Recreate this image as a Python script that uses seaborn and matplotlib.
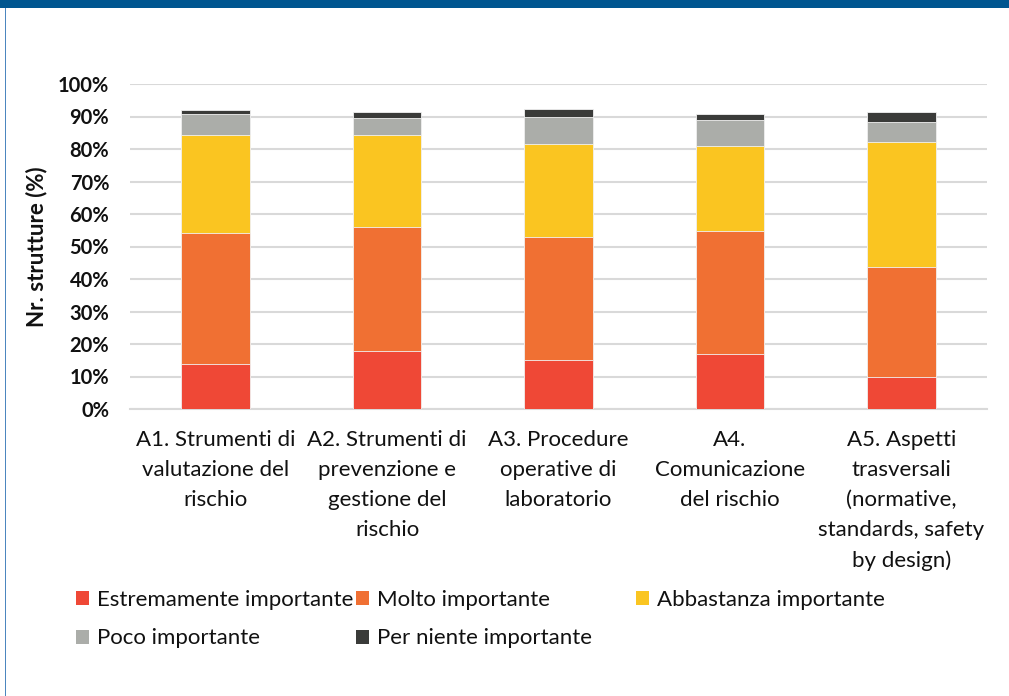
import matplotlib
matplotlib.use("Agg")
import matplotlib.pyplot as plt
from matplotlib.patches import Patch, Rectangle
from matplotlib.ticker import FuncFormatter
import seaborn as sns
import pandas as pd
import numpy as np

categories = [
    "A1. Strumenti di\nvalutazione del\nrischio",
    "A2. Strumenti di\nprevenzione e\ngestione del\nrischio",
    "A3. Procedure\noperative di\nlaboratorio",
    "A4.\nComunicazione\ndel rischio",
    "A5. Aspetti\ntrasversali\n(normative,\nstandards, safety\nby design)",
]
estremamente = [13.8, 17.9, 15.0, 16.8, 9.8]
molto = [40.4, 38.2, 38.0, 38.1, 34.0]
abbastanza = [30.1, 28.2, 28.4, 25.9, 38.3]
poco = [6.4, 5.2, 8.6, 8.1, 6.2]
per_niente = [1.2, 1.8, 2.4, 1.9, 3.0]

series_names = ["Estremamente importante", "Molto importante", "Abbastanza importante",
                "Poco importante", "Per niente importante"]
colors = ["#EF4836", "#F07033", "#FAC521", "#ABADA9", "#3A3B39"]

sns.set_theme(style="white")
plt.rcParams["font.family"] = ["Lato", "DejaVu Sans"]

W, H = 1009, 696
fig = plt.figure(figsize=(W / 100, H / 100), dpi=100)
ax = fig.add_axes([130 / W, 1 - 409 / H, 857 / W, 325 / H])

df = pd.DataFrame({
    "cat": categories,
    series_names[0]: estremamente,
    series_names[1]: molto,
    series_names[2]: abbastanza,
    series_names[3]: poco,
    series_names[4]: per_niente,
})
cum = df[series_names].cumsum(axis=1)

# draw cumulative bars from the top layer downward
for i in range(len(series_names) - 1, -1, -1):
    d = pd.DataFrame({"cat": categories, "val": cum[series_names[i]]})
    sns.barplot(data=d, x="cat", y="val", color=colors[i], width=0.4,
                edgecolor="#f2f2f2", linewidth=0.6, saturation=1, ax=ax, zorder=3)

ax.set_xlim(-0.5, 4.5)
ax.set_ylim(0, 100)
ax.set_yticks(np.arange(0, 101, 10))
ax.yaxis.set_major_formatter(FuncFormatter(lambda v, p: f"{int(round(v))}%"))
ax.grid(axis="y", color="#d9d9d9", linewidth=1.5, zorder=0)
ax.grid(axis="x", visible=False)
for s in ["top", "right", "left"]:
    ax.spines[s].set_visible(False)
ax.spines["bottom"].set_color("#d9d9d9")
ax.spines["bottom"].set_linewidth(1.5)
ax.tick_params(axis="both", length=0)
ax.tick_params(axis="y", pad=15)
ax.tick_params(axis="x", pad=15)
for t in ax.get_yticklabels():
    t.set_fontsize(14.5)
    t.set_fontweight("bold")
    t.set_color("#111111")
for t in ax.get_xticklabels():
    t.set_fontsize(16)
    t.set_color("#111111")
    t.set_linespacing(1.63)
ax.set_xlabel("")
ax.set_ylabel("Nr. strutture (%)", fontsize=16, fontweight="bold", color="#111111")
ax.yaxis.set_label_coords((47 - 130) / 857, 0.5)

handles = [Patch(facecolor=c, edgecolor="none") for c in colors]
leg_kw = dict(frameon=False, fontsize=16, handlelength=0.58, handleheight=0.58,
              handletextpad=0.35, borderpad=0, borderaxespad=0, labelspacing=0.83,
              labelcolor="#111111")
top_y = 1 - 590 / H
l1 = fig.legend([handles[0], handles[3]], [series_names[0], series_names[3]],
                loc="upper left", bbox_to_anchor=(76 / W, top_y), **leg_kw)
l2 = fig.legend([handles[1], handles[4]], [series_names[1], series_names[4]],
                loc="upper left", bbox_to_anchor=(356 / W, top_y), **leg_kw)
l3 = fig.legend([handles[2]], [series_names[2]],
                loc="upper left", bbox_to_anchor=(636 / W, top_y), **leg_kw)

# frame decorations
fig.patches.append(Rectangle((0, 1 - 8 / H), 1, 8 / H, transform=fig.transFigure,
                             facecolor="#005690", edgecolor="none", zorder=5))
fig.patches.append(Rectangle((4.5 / W, 0), 1.5 / W, 1 - 8 / H, transform=fig.transFigure,
                             facecolor="#4C86BF", edgecolor="none", zorder=5))

fig.savefig("out.png", dpi=100)
